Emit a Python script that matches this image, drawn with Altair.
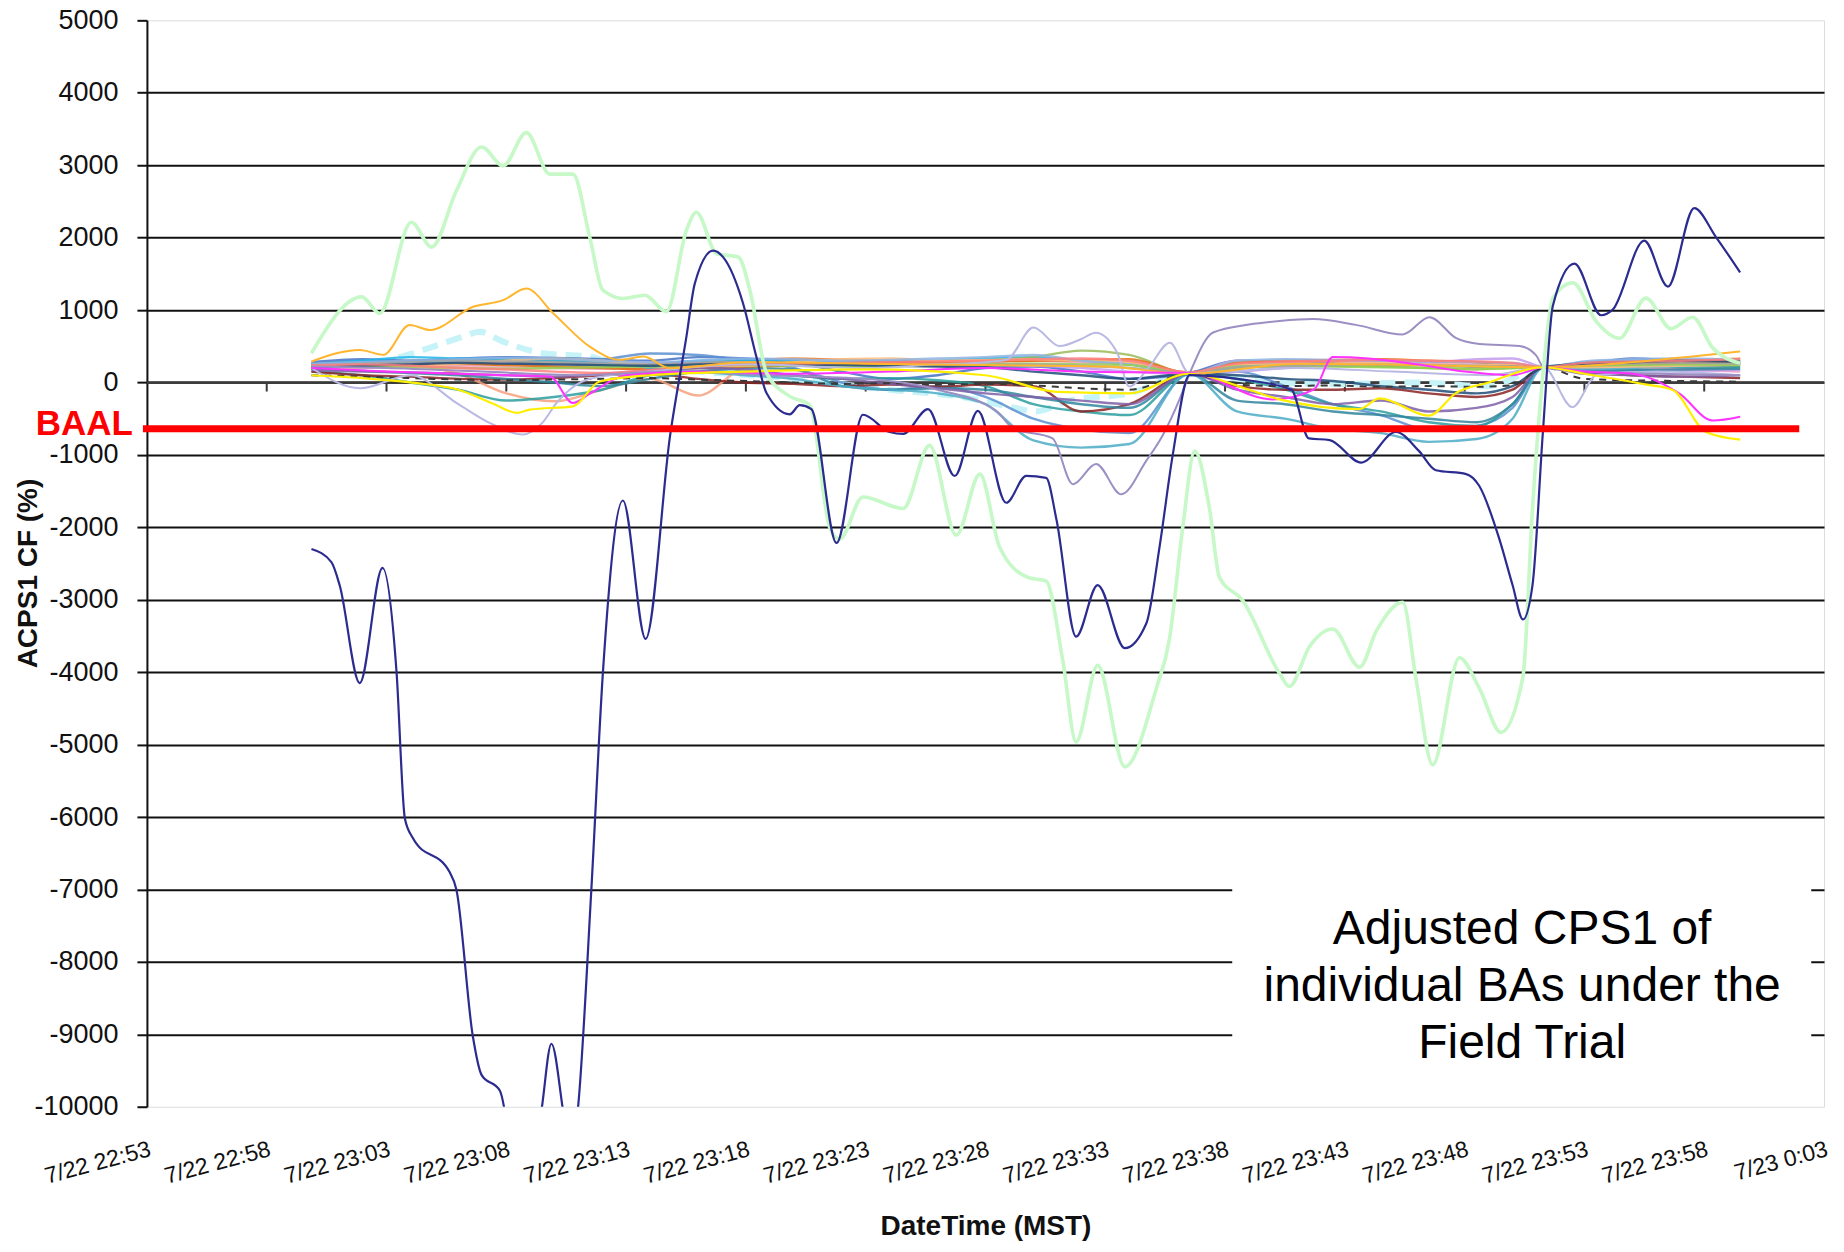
import altair as alt
import pandas as pd

# ---------------- data ----------------
YEAR = 2009
BASE = pd.Timestamp("2009-07-22 22:53:00")   # x-axis origin; times below are minutes after it

tick_labels = ["7/22 22:53", "7/22 22:58", "7/22 23:03", "7/22 23:08", "7/22 23:13",
               "7/22 23:18", "7/22 23:23", "7/22 23:28", "7/22 23:33", "7/22 23:38",
               "7/22 23:43", "7/22 23:48", "7/22 23:53", "7/22 23:58", "7/23 0:03"]
y_ticks = list(range(-10000, 5001, 1000))

baal_value = -640
baal_t = [-0.17, 68.96]

# shared time grid for the bundle of background BAs
grid_t = [6.87, 9, 11, 13, 15, 17, 19, 21, 23, 25, 27, 29, 31, 33, 35, 37, 39, 41, 43.5,
          45.5, 47.5, 49.5, 51.5, 53.5, 55.5, 57, 58.3, 60, 62, 64, 66.5]

bg_salmon = [200, 230, 230, 120, -150, -260, -100, 50, -180, 220, 300, 320, 300, 290, 310, 300, 300, 260, 130, 230, 240, 250, 260, 240, 220, 240, 210, 220, 240, 230, 220]
bg_orange = [260, 280, 300, 310, 300, 280, 260, 260, 280, 300, 330, 310, 290, 270, 300, 320, 290, 260, 140, 260, 270, 280, 260, 240, 230, 230, 210, 260, 280, 300, 330]
bg_blue = [280, 320, 300, 330, 350, 340, 320, 300, 350, 330, 280, 150, 50, 100, 200, 220, 150, 50, 130, 300, 280, 260, 230, 250, 220, 230, 210, 250, 330, 300, 280]
bg_steel = [250, 300, 280, 300, 330, 300, 320, 400, 380, 300, 200, 0, -100, -50, -200, -500, -650, -700, 120, 150, -50, -300, -450, -650, -600, -350, 210, 200, 250, 270, 250]
bg_teal = [150, 100, 0, -100, -250, -200, -100, 100, 150, 150, 100, 50, 60, 30, -50, -300, -400, -450, 120, 50, -100, -300, -400, -550, -600, -300, 210, 150, 180, 200, 210]
bg_maroon = [150, 100, 80, 50, 40, 60, 100, 120, 50, 0, -20, -50, -30, -60, -30, -50, -400, -300, 120, -50, -100, -100, -80, -150, -200, -100, 210, 150, 100, 80, 60]
bg_sky = [250, 300, 350, 330, 320, 300, 280, 260, 300, 310, 300, 280, 290, 300, 330, 350, 300, 250, 120, 220, 250, 230, 230, 250, 230, 240, 210, 280, 300, 290, 300]
bg_olive = [220, 240, 230, 240, 250, 260, 240, 230, 250, 260, 240, 230, 250, 260, 300, 350, 440, 380, 130, 200, 220, 230, 220, 200, 180, 200, 210, 220, 240, 250, 260]
bg_pink = [180, 200, 220, 230, 210, 200, 190, 200, 230, 240, 250, 260, 240, 250, 280, 300, 280, 250, 120, 300, 280, 300, 290, 270, 250, 260, 210, 230, 200, 180, 150]
bg_violet = [230, 250, 270, 280, 260, 250, 270, 280, 260, 240, 230, 240, 260, 270, 250, 230, 200, 150, 120, 150, 200, 250, 300, 280, 320, 330, 210, 180, 150, 160, 170]
bg_darkteal = [190, 160, 130, 100, 50, 0, -50, 50, 150, 200, 180, -50, -100, -80, -100, -200, -300, -350, 120, -250, -300, -400, -450, -500, -550, -300, 210, 160, 170, 180, 190]
bg_redorange = [210, 220, 240, 260, 240, 220, 200, 180, 200, 220, 230, 250, 270, 280, 290, 300, 310, 320, 130, 280, 300, 310, 320, 300, 280, 250, 210, 250, 260, 270, 280]
bg_cyanblue = [240, 260, 280, 300, 310, 300, 280, 200, 150, 100, 50, -50, -100, -150, -300, -800, -900, -850, 120, -400, -500, -640, -700, -820, -780, -500, 210, 180, 200, 230, 250]
bg_tan = [200, 210, 220, 260, 300, 330, 300, 250, 220, 230, 280, 320, 330, 300, 310, 320, 300, 280, 120, 240, 250, 260, 270, 250, 240, 250, 210, 210, 220, 230, 250]
bg_lightblue = [260, 280, 300, 320, 340, 330, 300, 280, 300, 330, 320, 300, 310, 330, 350, 380, 300, 250, 120, 300, 320, 310, 300, 290, 280, 270, 210, 290, 320, 330, 310]
bg_purple = [170, 150, 140, 120, 100, 80, 120, 160, 200, 180, 100, 50, -20, -80, -150, -200, -250, -300, 120, -100, -200, -300, -250, -400, -350, -200, 210, 120, 100, 80, 100]
bg_lime = [210, 220, 210, 200, 190, 200, 210, 220, 230, 240, 230, 220, 230, 240, 250, 260, 250, 240, 130, 220, 230, 220, 210, 200, 190, 200, 210, 230, 240, 250, 240]
bg_gray = [230, 260, 280, 300, 290, 280, 260, 250, 270, 280, 260, 250, 240, 230, 240, 250, 230, 200, 130, 210, 230, 240, 250, 240, 230, 220, 210, 240, 260, 270, 260]
bg_navy2 = [200, 230, 250, 270, 260, 250, 240, 230, 250, 260, 250, 240, 230, 220, 210, 150, 100, 50, 120, 100, 50, 20, -50, -100, -150, -50, 210, 260, 280, 300, 290]
bg_coral = [240, 250, 230, 200, 180, 150, 130, 170, 220, 250, 260, 270, 280, 290, 300, 320, 330, 300, 140, 260, 290, 300, 310, 300, 290, 270, 210, 270, 290, 300, 320]
bg_dashed = [100, 80, 60, 40, 30, 40, 50, 60, 40, 20, 0, -20, -10, -30, -20, -40, -80, -100, 120, -30, -50, -40, -60, -50, -60, -40, 210, 50, 30, 20, 10]

background = [
    ("salmon", "#F7A07E", bg_salmon), ("orange", "#F58231", bg_orange),
    ("blue", "#4472C4", bg_blue), ("steel", "#5B8FD0", bg_steel),
    ("teal", "#2A9D9D", bg_teal), ("maroon", "#8B2323", bg_maroon),
    ("sky", "#1FB5E8", bg_sky), ("olive", "#9BBB59", bg_olive),
    ("pink", "#F7A1C4", bg_pink), ("violet", "#C39BF0", bg_violet),
    ("darkteal", "#31859C", bg_darkteal), ("redorange", "#E46C0A", bg_redorange),
    ("cyanblue", "#4BACC6", bg_cyanblue), ("tan", "#FFC080", bg_tan),
    ("lightblue", "#8EB4E3", bg_lightblue), ("purple", "#7F5FA8", bg_purple),
    ("lime", "#92D050", bg_lime), ("gray", "#A5A5A5", bg_gray),
    ("navy2", "#1F4E79", bg_navy2), ("coral", "#FF7F7F", bg_coral),
]

cyan_t = [9.5, 10.14, 11.53, 13.2, 13.9, 14.87, 16.54, 18.49, 19.9, 23, 27, 31, 34, 36.1, 37.1, 38.5, 41, 43.5, 47, 50, 53, 56, 58.3, 62, 66.5]
cyan_v = [260, 312, 450, 633, 700, 564, 404, 358, 220, 150, 50, -100, -200, -340, -400, -250, -150, 120, 0, -20, 0, -50, 210, 200, 300]

lav1_t = [6.87, 8.9, 11, 13, 14.3, 15.7, 16.5, 17.1, 18.5, 21, 25, 30, 33, 35, 35.9, 37.0, 38.1, 39.0, 39.6, 40.5, 41.0, 41.8, 42.7, 43.5, 45, 48, 52, 56, 58.3, 59.5, 60.5, 63, 66.5]
lav1_v = [200, -80, 100, -300, -558, -718, -558, -283, 50, 150, 250, 200, 250, 280, 316, 758, 502, 600, 688, 409, -56, 200, 549, 130, 150, 200, 150, 100, 210, -340, 100, 150, 100]

lav2_t = [6.87, 10, 14, 18, 22, 26, 30, 33, 35.45, 36.15, 37.8, 38.65, 39.62, 40.67, 41.71, 42.4, 43.1, 43.52, 44.5, 46, 47.27, 48.66, 50.47, 52.42, 53.53, 54.65, 55.62, 57.29, 57.98, 58.3, 60, 63, 66.5]
lav2_v = [220, 200, 150, 100, 150, 100, 50, -100, -393, -631, -773, -1404, -1125, -1544, -1079, -728, -234, 120, 690, 800, 848, 875, 795, 663, 901, 611, 531, 505, 373, 210, 150, 120, 100]

gold_t = [6.87, 8.89, 9.86, 10.97, 11.81, 13.62, 14.87, 15.84, 16.96, 18.49, 19.74, 20.71, 21.83, 25, 30, 35, 40, 43.5, 48, 53, 58.3, 62, 64.5, 66.5]
gold_v = [289, 449, 381, 793, 724, 1045, 1136, 1297, 953, 495, 312, 358, 198, 280, 260, 240, 220, 120, 260, 240, 210, 280, 360, 430]

magenta_t = [6.87, 10, 13, 15, 16.82, 17.79, 18.5, 20, 23, 27, 31, 35, 39, 43.5, 47, 48.7, 49.5, 51, 53, 55, 57, 58.3, 60, 62, 63.96, 65.35, 66.5]
magenta_v = [200, 150, 120, 100, 83, -283, -150, 100, 150, 120, 150, 200, 150, 130, -234, -99, 350, 330, 250, 150, 100, 210, 150, 120, -155, -525, -472]

yellow_t = [6.87, 9, 11, 13, 14.5, 15.43, 15.98, 17.79, 18.9, 21, 25, 30, 35, 38, 41, 43.5, 46, 47.27, 50.6, 51.45, 53.5, 54.65, 56, 58.3, 60, 62.6, 63.69, 65.07, 66.5]
yellow_v = [100, 60, 0, -100, -300, -420, -375, -330, 14, 100, 150, 180, 100, -130, -150, 120, -100, -234, -368, -220, -458, -144, 0, 210, 120, -30, -103, -683, -790]

green_t = [6.87, 8.96, 9.72, 11.04, 11.88, 12.92, 13.97, 14.87, 15.84, 16.82, 17.79, 18.49, 19.04, 19.88, 20.78, 21.69, 22.52, 22.94, 23.78, 24.68, 25.17, 25.86, 26.84,
           27.66, 28.5, 28.92, 29.89, 31.56, 32.67, 33.78, 34.76, 35.59, 36.77, 37.54, 38.23, 38.79, 39.69, 40.81, 42.13, 42.68, 43.24, 43.73, 44.35, 44.77, 45.74,
           47.27, 47.69, 48.53, 49.5, 50.61, 51.31, 52.42, 52.98, 53.67, 54.78, 55.62, 56.52, 57.43, 57.84, 58.26, 58.68, 59.51, 60.49, 61.46, 62.57, 63.62, 64.52, 65.35, 66.5]
green_v = [404, 1182, 953, 2212, 1869, 2647, 3252, 2991, 3449, 2876, 2876, 2006, 1274, 1159, 1205, 976, 2098, 2350, 1777, 1732, 1274, 129, -192,
           -314, -2004, -2163, -1582, -1740, -869, -2110, -1265, -2269, -2691, -2744, -3853, -4963, -3906, -5306, -4223, -3537, -2004, -948, -1740, -2691, -3008,
           -4012, -4197, -3642, -3404, -3932, -3431, -3035, -4118, -5280, -3800, -4223, -4831, -4065, -1740, 109, 1165, 1377, 848, 611, 1165, 743, 901, 479, 267]

navy_t = [6.87, 7.7, 8.05, 8.89, 9.83, 10.41, 10.76, 11.1, 12.64, 12.92, 13.6, 13.96, 14.73, 15.7, 16.47, 16.88, 17.36, 17.65, 17.98, 18.55, 19.03, 19.87,
          20.82, 21.83, 22.52, 22.87, 23.64, 24.05, 24.89, 25.44, 25.86, 26.84, 27.25, 27.73, 28.78, 29.89, 31.0, 31.56, 32.6, 33.71, 34.69, 35.87, 36.7,
          37.54, 37.96, 38.79, 39.69, 40.81, 41.71, 42.27, 42.82, 43.52, 45.5, 47.76, 48.5, 49.36, 50.68, 52.14, 53.1, 53.8, 55.06, 55.6, 56.45, 57.0,
          57.43, 57.84, 58.26, 58.68, 59.58, 60.7, 61.18, 62.5, 63.48, 64.59, 65.49, 66.5]
navy_v = [-2300, -2480, -2806, -4150, -2560, -3990, -6020, -6290, -6760, -7000, -9020, -9560, -9780, -11500, -10050, -9130, -10050, -10700, -10050, -7000, -4000, -1630,
          -3540, -740, 630, 1365, 1820, 1730, 1090, 360, -150, -440, -314, -367, -2216, -446, -684, -710, -367, -1291, -393, -1661, -1291,
          -1318, -1899, -3510, -2797, -3669, -3325, -2269, -1000, 100, 50, -100, -773, -795, -1106, -684, -948, -1212, -1265, -1423, -2163, -2797,
          -3272, -2797, -684, 1060, 1641, 928, 1007, 1958, 1324, 2407, 2011, 1519]

note_lines = ["Adjusted CPS1 of", "individual BAs under the", "Field Trial"]
note_pos = (57.4, -7560)
note_box_t = [45.3, 69.46]
note_box_v = [-6600, -9985]

# ---------------- helpers ----------------
def iso(m):
    return (BASE + pd.Timedelta(seconds=int(round(m * 60)))).strftime("%Y-%m-%dT%H:%M:%S")


def frame(ts, vs):
    return pd.DataFrame({"t": [iso(m) for m in ts], "v": vs})


tick_dt = [pd.to_datetime(f"{YEAR}/{s}", format="%Y/%m/%d %H:%M") for s in tick_labels]


def dtime(p):
    return alt.DateTime(year=p.year, month=p.month, date=p.day, hours=p.hour, minutes=p.minute)


FONT = "Liberation Sans"
NARROW = "Liberation Sans Narrow, Liberation Sans"

xs = alt.Scale(domain=[dtime(tick_dt[0]), dtime(tick_dt[-1])])
ys = alt.Scale(domain=[-10000, 5000], nice=False, zero=False)

xa = alt.Axis(values=[dtime(p) for p in tick_dt], format="%-m/%-d %-H:%M", grid=False, domain=False,
              ticks=False, labelAngle=345, labelAlign="right", labelBaseline="top", labelPadding=31,
              labelFontSize=23, labelColor="#111111", labelFont=NARROW, labelOverlap=False,
              labelFlush=False, labelBound=False, titleFont=FONT, titleFontSize=28,
              titleFontWeight="bold", titleColor="#111111", titleY=120, titleBaseline="middle")
ya = alt.Axis(values=y_ticks, labelExpr="'' + datum.value", grid=True, gridColor="#111111", gridWidth=2,
              gridOpacity={"condition": {"test": "datum.value === 5000 || datum.value === -10000", "value": 0},
                           "value": 1},
              domainColor="#111111", domainWidth=2, tickColor="#111111", tickWidth=2, tickSize=10,
              labelFontSize=27, labelColor="#111111", labelFont=FONT, labelPadding=19,
              titleFont=FONT, titleFontSize=28, titleFontWeight="bold", titleColor="#111111",
              titleX=-118, titleY=553, titleAngle=270, titleAlign="center", titleBaseline="middle")

X = alt.X("t:T", scale=xs, axis=xa, title="DateTime (MST)")
Y = alt.Y("v:Q", scale=ys, axis=ya, title="ACPS1 CF (%)")

# ---------------- layers ----------------
zero_line = alt.Chart(pd.DataFrame({"v": [0]})).mark_rule(color="#3a3a3a", strokeWidth=2.5).encode(y=Y)

tick_df = pd.DataFrame({"t": [p.strftime("%Y-%m-%dT%H:%M:%S") for p in tick_dt[1:-1]]})
tick_df["v"] = 0
tick_df["v2"] = -125
zero_ticks = alt.Chart(tick_df).mark_rule(color="#3a3a3a", strokeWidth=2).encode(x=X, y=Y, y2="v2:Q")

cyan = alt.Chart(frame(cyan_t, cyan_v)).mark_line(
    color="#C5F3F8", strokeWidth=6, strokeDash=[16, 9], interpolate="monotone", clip=True).encode(x=X, y=Y)

bg_rows = []
for name, col, vals in background:
    for m, v in zip(grid_t, vals):
        bg_rows.append({"s": name, "c": col, "t": iso(m), "v": v})
bg = alt.Chart(pd.DataFrame(bg_rows)).mark_line(
    strokeWidth=2.4, opacity=0.85, interpolate="monotone", clip=True).encode(
    x=X, y=Y, color=alt.Color("c:N", scale=None), detail="s:N")

dashed = alt.Chart(frame(grid_t, bg_dashed)).mark_line(
    color="#3a3a3a", strokeWidth=2, strokeDash=[7, 6], interpolate="monotone", clip=True).encode(x=X, y=Y)


def special(ts, vs, color, width, opacity=1.0):
    return alt.Chart(frame(ts, vs)).mark_line(
        color=color, strokeWidth=width, opacity=opacity, interpolate="monotone", clip=True).encode(x=X, y=Y)


lav1 = special(lav1_t, lav1_v, "#B9B9E3", 2)
lav2 = special(lav2_t, lav2_v, "#9C8FC4", 2)
gold = special(gold_t, gold_v, "#FFB52E", 2)
magenta = special(magenta_t, magenta_v, "#FF33FF", 2)
yellow = special(yellow_t, yellow_v, "#FFEE00", 2.2)
green = special(green_t, green_v, "#C6F8C8", 3.6)
navy = special(navy_t, navy_v, "#2B2B90", 2.2)

baal_df = pd.DataFrame({"t": [iso(baal_t[0])], "t2": [iso(baal_t[1])], "v": [baal_value]})
baal_line = alt.Chart(baal_df).mark_rule(color="#FF0000", strokeWidth=7).encode(x=X, x2="t2:T", y=Y)
baal_text = alt.Chart(baal_df).mark_text(
    text="BAAL", color="#FF0000", fontSize=35, fontWeight="bold", font=FONT,
    align="right", baseline="middle", dx=-10, dy=-5).encode(x=X, y=Y)

box_df = pd.DataFrame({"t": [iso(note_box_t[0])], "t2": [iso(note_box_t[1])],
                       "v": [note_box_v[0]], "v2": [note_box_v[1]]})
box = alt.Chart(box_df).mark_rect(color="white", opacity=1).encode(x=X, x2="t2:T", y=Y, y2="v2:Q")

note_df = pd.DataFrame({"t": [iso(note_pos[0])], "v": [note_pos[1]]})
note = alt.Chart(note_df).mark_text(
    fontSize=48, font=FONT, color="black", align="center", baseline="middle", lineHeight=57).encode(
    x=X, y=Y, text=alt.value(note_lines))

chart = alt.layer(
    zero_line, zero_ticks, cyan, bg, dashed, lav1, lav2, gold, magenta, yellow, green, navy,
    baal_line, baal_text, box, note
).properties(
    width=1678, height=1087, autosize=alt.AutoSizeParams(type="none"),
    padding={"left": 139, "top": 12, "right": 12, "bottom": 136},
).configure_view(stroke="#A0A0A0", strokeWidth=2).configure(font=FONT)

chart.save("out.html", embed_options={"renderer": "svg", "actions": False})
